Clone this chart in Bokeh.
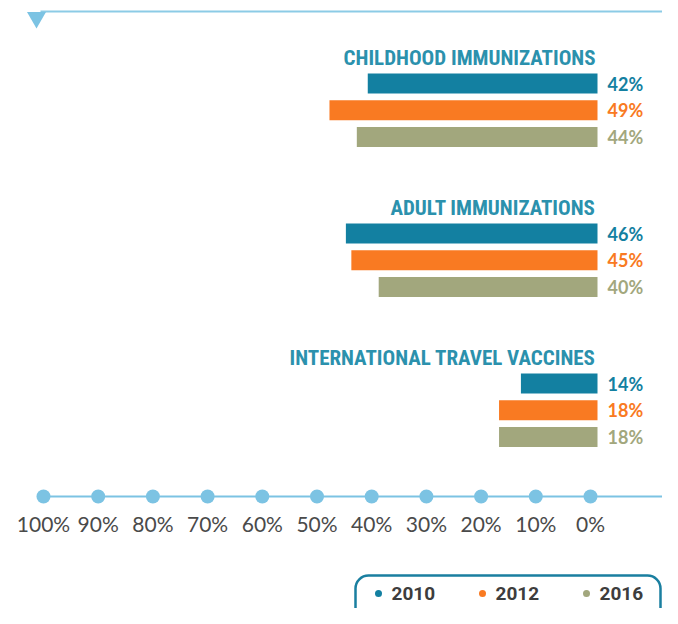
from bokeh.plotting import figure
from bokeh.models import Range1d, ColumnDataSource, BoxAnnotation
from bokeh.core.properties import value
from bokeh.embed import file_html
from bokeh.resources import INLINE

# ---------------- data ----------------
categories = ["CHILDHOOD IMMUNIZATIONS", "ADULT IMMUNIZATIONS", "INTERNATIONAL TRAVEL VACCINES"]
years = ["2010", "2012", "2016"]
v2010 = [42, 46, 14]
v2012 = [49, 45, 18]
v2016 = [44, 40, 18]
tick_values = [100, 90, 80, 70, 60, 50, 40, 30, 20, 10, 0]
tick_labels = ["100%", "90%", "80%", "70%", "60%", "50%", "40%", "30%", "20%", "10%", "0%"]

# ---------------- style ----------------
colors = ["#1380a1", "#f97a22", "#a2a77d"]
title_color = "#2b91ad"
axis_color = "#7cc3e3"
W, H = 662, 608
PX = 5.47                      # pixels per percent
X0 = 597.0                     # pixel of 0% (bar origin)
AXIS_SHIFT = 7 / PX            # axis dots sit slightly left of bar origin

p = figure(width=W, height=H, output_backend="svg", toolbar_location=None,
           x_range=Range1d(X0 / PX, (X0 - W) / PX), y_range=Range1d(H, 0),
           x_axis_type=None, y_axis_type=None, min_border=0,
           min_border_left=0, min_border_right=0, min_border_top=0, min_border_bottom=0)
p.grid.visible = False
p.outline_line_color = None
p.background_fill_color = "white"

series = [v2010, v2012, v2016]
GROUP_STEP = 150
TITLE_Y0 = 57
BAR_STEP = 26.7
BAR_OFF = 26

def px(xpix):
    return (X0 - xpix) / PX

# titles
p.text(x=[px(595)] * len(categories), y=[TITLE_Y0 + GROUP_STEP * i for i in range(len(categories))],
       text=categories, text_align="right", text_baseline="middle",
       text_font=value("'Roboto Condensed', Roboto"), text_font_style="bold",
       text_font_size="21px", text_color=title_color)

# bars + value labels
for j, (vals, col) in enumerate(zip(series, colors)):
    ys = [TITLE_Y0 + GROUP_STEP * i + BAR_OFF + BAR_STEP * j for i in range(len(vals))]
    src = ColumnDataSource(dict(y=ys, v=vals, lab=[f"{v}%" for v in vals]))
    p.hbar(y="y", left="v", right=0, height=20, source=src, fill_color=col, line_color=None)
    p.text(x=px(607), y="y", text="lab", source=src, text_align="left", text_baseline="middle",
           text_font=value("Lato"), text_font_style="bold", text_font_size="18px", text_color=col)

# top rule with triangle
p.line(x=[px(40), px(700)], y=[11, 11], line_color="#8ccbe6", line_width=2)
p.scatter(x=[px(36)], y=[17], marker="inverted_triangle", size=19, fill_color=axis_color, line_color=None)

# bottom scale
dots_x = [t + AXIS_SHIFT for t in tick_values]
p.line(x=[dots_x[0], px(700)], y=[496, 496], line_color=axis_color, line_width=2)
p.scatter(x=dots_x, y=[496] * len(dots_x), size=14, fill_color=axis_color, line_color=None)
p.text(x=dots_x, y=[523] * len(dots_x), text=tick_labels, text_align="center", text_baseline="middle",
       text_font=value("Lato"), text_font_size="21px", text_color="#4a4a4a")

# legend
box = BoxAnnotation(left=px(355), right=px(660), top=575, bottom=660,
                    fill_color=None, fill_alpha=0, line_color="#1a7fa0", line_alpha=1.0,
                    line_width=2.5, border_radius=13)
p.add_layout(box)
leg_x = [px(378 + 104 * k) for k in range(len(years))]
p.scatter(x=leg_x, y=[593] * len(years), size=7, fill_color=colors, line_color=None)
p.text(x=[x - 13 / PX for x in leg_x], y=[593] * len(years), text=years, text_align="left",
       text_baseline="middle", text_font=value("Roboto"), text_font_style="bold",
       text_font_size="19px", text_color="#3d3d3d")

open("out.html", "w").write(file_html(p, INLINE))
